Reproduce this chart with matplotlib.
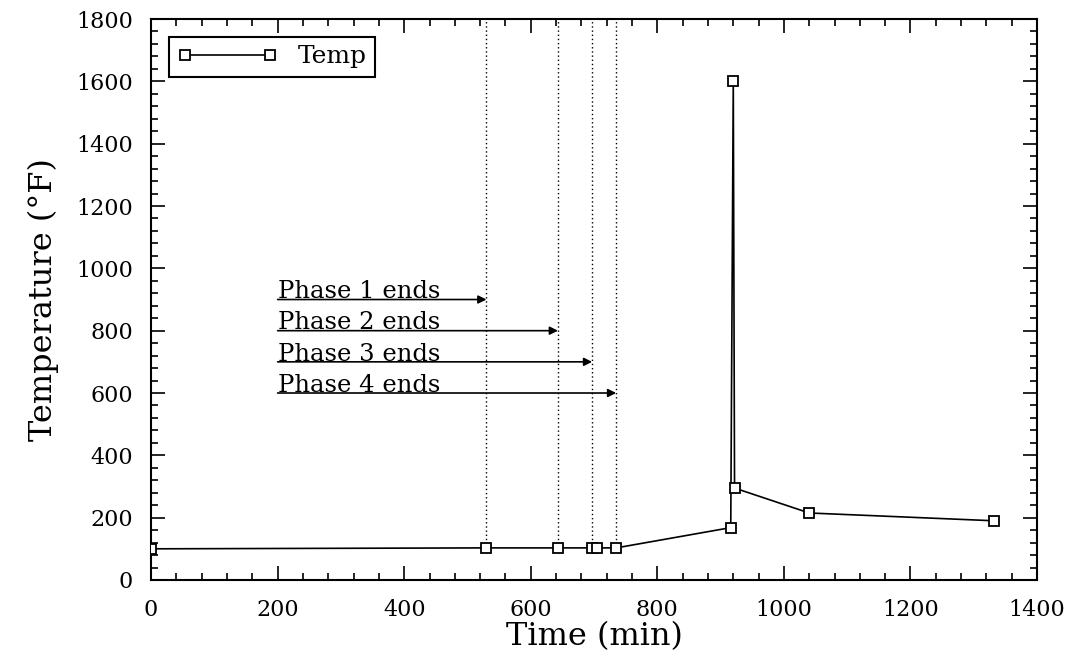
import numpy as np
import matplotlib.pyplot as plt
from matplotlib.ticker import MultipleLocator

# Temperature history
time_min = [0, 530, 643, 697, 705, 735, 916, 920, 922, 1040, 1332]
temp_f = [100, 103, 103, 103, 103, 103, 168, 1600, 295, 215, 190]

# Phase end markers
phase_labels = ["Phase 1 ends", "Phase 2 ends", "Phase 3 ends", "Phase 4 ends"]
phase_time = [530, 643, 697, 735]
phase_base = [103, 103, 103, 103]
phase_arrow_y = [900, 800, 700, 600]
label_x = 200

plt.rcParams["font.family"] = "DejaVu Serif"

fig = plt.figure(figsize=(10.72, 6.63), dpi=100)
ax = fig.add_axes([0.1409, 0.1252, 0.8265, 0.8461])

ax.plot(time_min, temp_f, color="black", lw=1.2, marker="s", ms=7,
        mfc="white", mec="black", mew=1.3, label="Temp", zorder=3)

for t, b in zip(phase_time, phase_base):
    ax.vlines(t, b, 1800, colors="black", linestyles=(0, (1, 2)), lw=1.0)

for lab, t, y in zip(phase_labels, phase_time, phase_arrow_y):
    ax.annotate("", xy=(t, y), xytext=(label_x, y),
                arrowprops=dict(arrowstyle="-|>", color="black", lw=1.2,
                                mutation_scale=12, shrinkA=0, shrinkB=0))
    ax.text(label_x, y + 4, lab, fontsize=17.5, ha="left", va="baseline")

ax.set_xlim(0, 1400)
ax.set_ylim(0, 1800)
ax.xaxis.set_major_locator(MultipleLocator(200))
ax.xaxis.set_minor_locator(MultipleLocator(40))
ax.yaxis.set_major_locator(MultipleLocator(200))
ax.yaxis.set_minor_locator(MultipleLocator(40))
ax.tick_params(which="both", direction="in", top=True, right=True, width=1.2)
ax.tick_params(which="major", length=10, labelsize=16)
ax.tick_params(axis="x", which="major", pad=14)
ax.tick_params(axis="y", which="major", pad=13)
ax.tick_params(which="minor", length=5)
for s in ax.spines.values():
    s.set_linewidth(1.5)

ax.set_xlabel("Time (min)", fontsize=23, labelpad=0)
ax.set_ylabel("Temperature (°F)", fontsize=23, labelpad=12)

leg = ax.legend(loc="upper left", fontsize=18, handlelength=4.0, numpoints=2,
                fancybox=False, framealpha=1, edgecolor="black",
                borderaxespad=0.7, borderpad=0.35, handletextpad=0.8)
leg.get_frame().set_linewidth(1.5)

fig.savefig("out.png", dpi=100)
